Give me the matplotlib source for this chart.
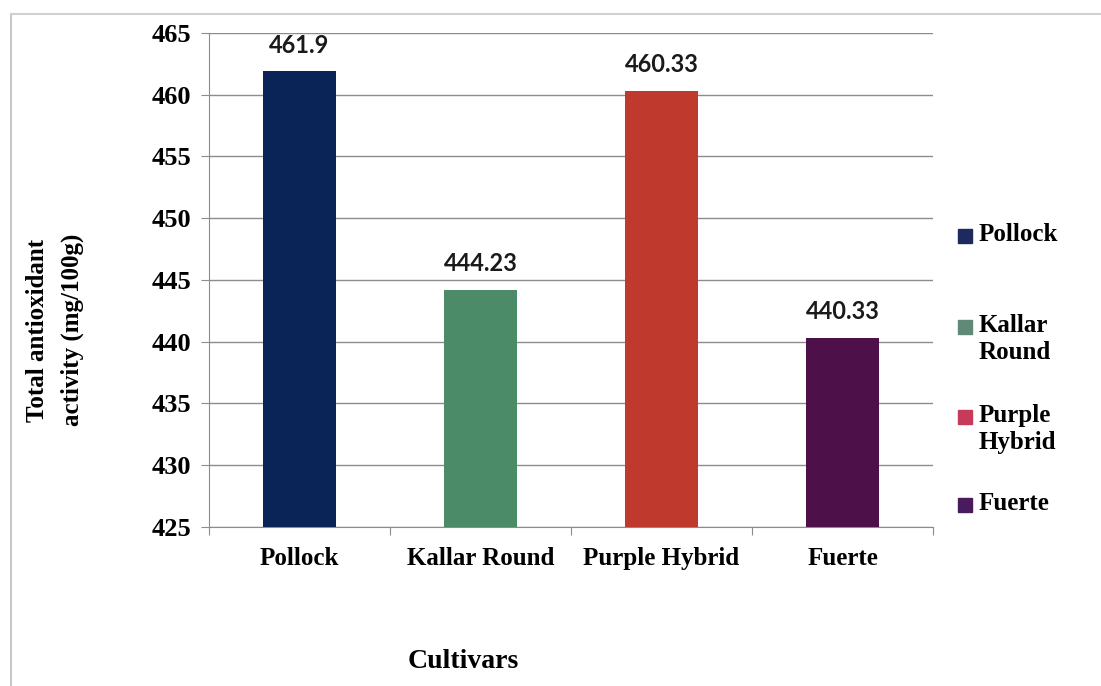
import matplotlib.pyplot as plt
from matplotlib.lines import Line2D

cultivars = ["Pollock", "Kallar Round", "Purple Hybrid", "Fuerte"]
activity = [461.9, 444.23, 460.33, 440.33]
value_labels = ["461.9", "444.23", "460.33", "440.33"]
legend_labels = ["Pollock", "Kallar\nRound", "Purple\nHybrid", "Fuerte"]
bar_colors = ["#0b2458", "#4b8b67", "#bf3a2c", "#4e1049"]
legend_colors = ["#1c2a5e", "#5f8a78", "#c63a5a", "#4a1a5e"]
yticks = [425, 430, 435, 440, 445, 450, 455, 460, 465]

W, H = 1101, 686
fig = plt.figure(figsize=(W / 100, H / 100), dpi=100)

# page frame (left + top edges of the scanned box)
fig.add_artist(Line2D([11 / W, 11 / W], [0, 1 - 14 / H], color="#c8c8c8", lw=1.5))
fig.add_artist(Line2D([11 / W, 1], [1 - 14 / H, 1 - 14 / H], color="#d0d0d0", lw=1.5))

left, right, top, bottom = 209, 933, 33, 527
ax = fig.add_axes([left / W, 1 - bottom / H, (right - left) / W, (bottom - top) / H])

x = range(len(cultivars))
ax.bar(x, activity, width=0.4, color=bar_colors, zorder=3)
ax.set_ylim(425, 465)
ax.set_xlim(-0.5, len(cultivars) - 0.5)
ax.set_yticks(yticks)
ax.yaxis.grid(True, color="#8c8c8c", lw=1)
ax.set_axisbelow(True)

for sp in ["top", "right"]:
    ax.spines[sp].set_visible(False)
for sp in ["left", "bottom"]:
    ax.spines[sp].set_color("#8c8c8c")

serif = "Liberation Serif"
ax.set_yticklabels([str(t) for t in yticks], fontfamily=serif, fontweight="bold", fontsize=19)
ax.tick_params(axis="y", length=6, color="#8c8c8c", pad=7)

# category labels between boundary ticks
ax.set_xticks([-0.5, 0.5, 1.5, 2.5, 3.5])
ax.set_xticklabels([])
ax.tick_params(axis="x", length=6, color="#8c8c8c")
for i, name in enumerate(cultivars):
    ax.text(i, -0.04, name, transform=ax.get_xaxis_transform(), ha="center", va="top",
            fontfamily=serif, fontweight="bold", fontsize=18)

for i, (v, s) in enumerate(zip(activity, value_labels)):
    ax.text(i, v + 1.15, s, ha="center", va="bottom", fontfamily="Lato",
            fontweight="bold", fontsize=17, color="#1a1a1a")

fig.text(55 / W, 1 - 330 / H, "Total antioxidant\nactivity (mg/100g)", rotation=90,
         ha="center", va="center", multialignment="center", fontfamily=serif,
         fontweight="bold", fontsize=18, linespacing=1.6)
fig.text(463 / W, 1 - 662 / H, "Cultivars", ha="center", va="center",
         fontfamily=serif, fontweight="bold", fontsize=20)

# legend entries (y of first text line centre, in pixels)
legend_y = [236, 327, 417, 505]
for c, lab, ly in zip(legend_colors, legend_labels, legend_y):
    fig.add_artist(plt.Rectangle((958 / W, 1 - (ly + 7) / H), 14 / W, 14 / H,
                                 color=c, transform=fig.transFigure))
    fig.text(979 / W, 1 - (ly - 13) / H, lab, ha="left", va="top",
             fontfamily=serif, fontweight="bold", fontsize=18, linespacing=1.2)

fig.savefig("out.png", dpi=100)
